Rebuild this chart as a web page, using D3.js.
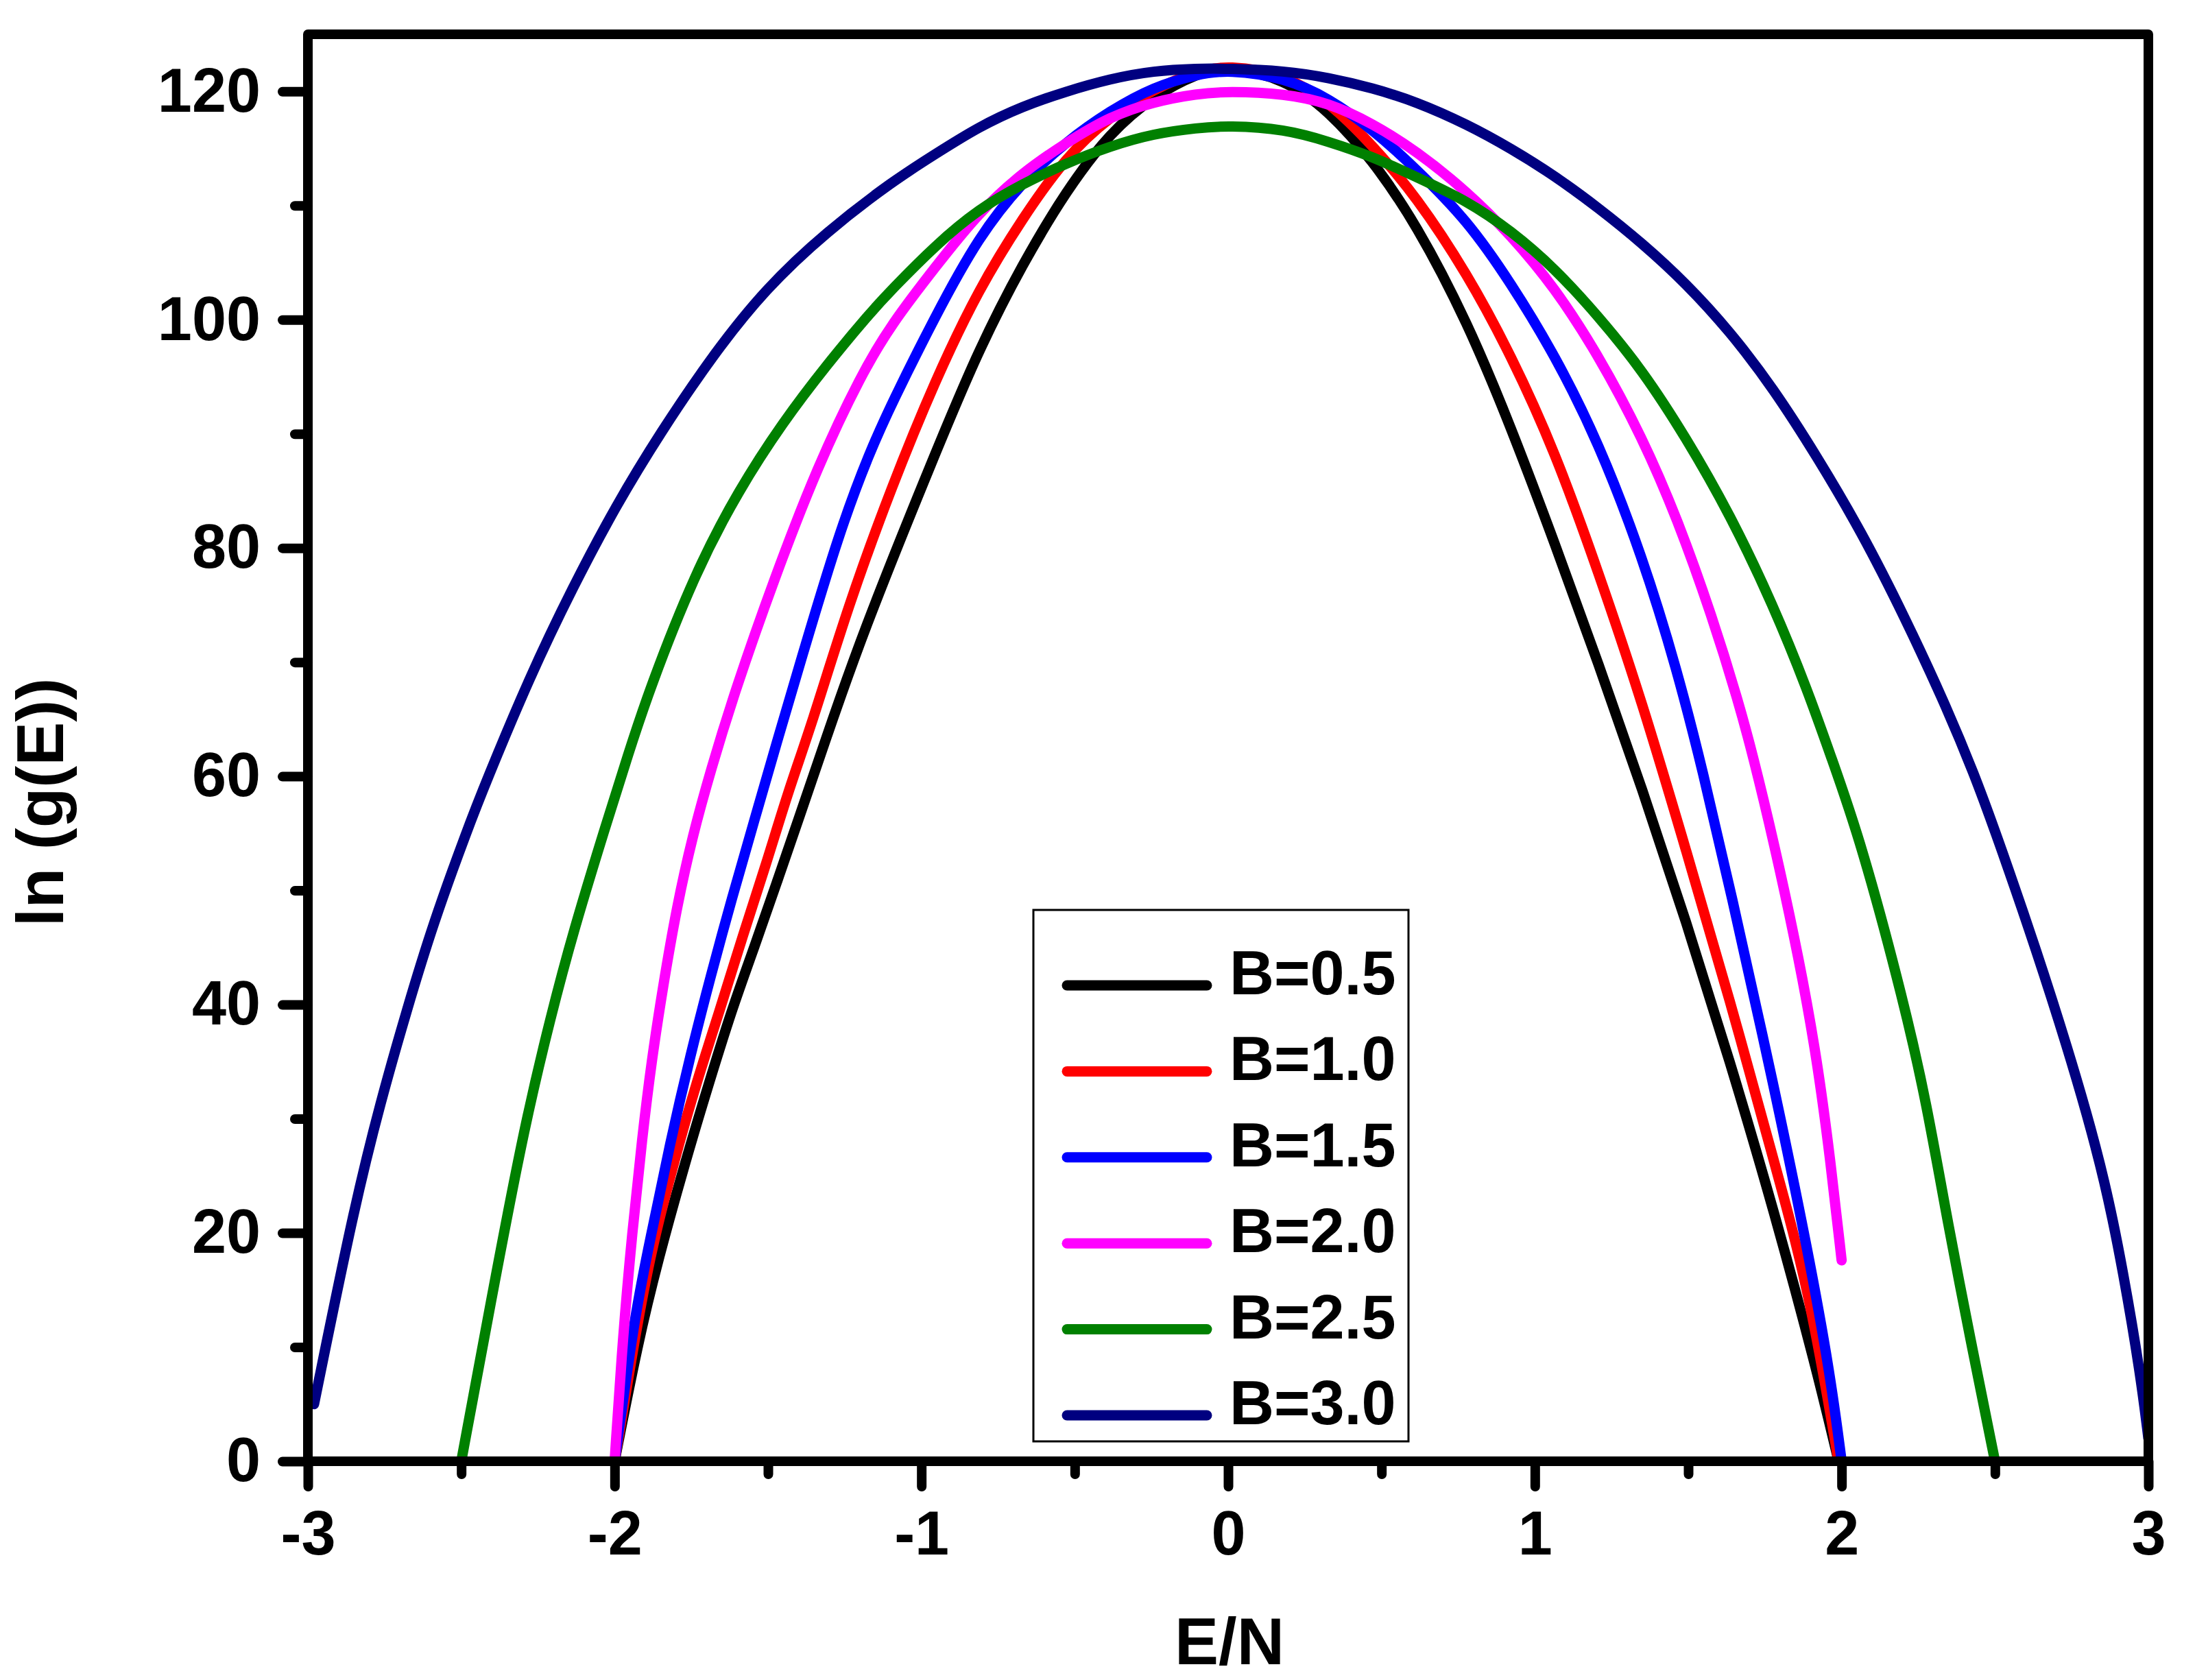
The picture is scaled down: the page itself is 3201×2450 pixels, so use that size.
<!DOCTYPE html>
<html>
<head>
<meta charset="utf-8">
<script src="https://cdn.jsdelivr.net/npm/d3@7"></script>
<style>
    body { margin: 0; background: #fff; }
    svg  { display: block; }
    text { font-family: "Liberation Sans", Arial, sans-serif; font-weight: bold; fill: #000; }
</style>
</head>
<body>
<div id="chart"></div>
<script>
/* jshint esversion: 6 */
"use strict";

// #############################################################################
// data: [E/N, ln(g(E))]
const seriesB05 = [
    [-2.00, 0], [-1.925, 10.3], [-1.858, 17.7], [-1.768, 26.4], [-1.694, 33.0],
    [-1.619, 39.5], [-1.545, 45.0], [-1.47, 50.8], [-1.396, 56.6], [-1.321, 62.5],
    [-1.196, 72.3], [-0.955, 88.3], [-0.813, 97.4], [-0.67, 104.9], [-0.528, 111.3],
    [-0.385, 116.4], [-0.243, 119.6], [-0.1, 121.6], [0, 122.2], [0.185, 121.1],
    [0.328, 118.3], [0.47, 114.0], [0.613, 108.4], [0.78, 99.8], [0.922, 90.6],
    [1.065, 80.4], [1.207, 69.9], [1.35, 58.9], [1.493, 47.3], [1.635, 35.1],
    [1.777, 22.2], [1.92, 7.9], [1.99, 0]
];
const seriesB10 = [
    [-2.00, 0], [-1.932, 11.2], [-1.88, 18.6], [-1.805, 26.4], [-1.731, 33.4],
    [-1.657, 39.5], [-1.582, 46.1], [-1.507, 52.2], [-1.433, 58.8], [-1.359, 64.4],
    [-1.238, 75.0], [-1.098, 85.3], [-0.955, 94.7], [-0.813, 102.7], [-0.67, 108.9],
    [-0.528, 114.3], [-0.385, 117.8], [-0.243, 120.2], [-0.1, 121.8], [0, 122.3],
    [0.185, 121.5], [0.328, 119.1], [0.47, 115.3], [0.613, 110.8], [0.78, 104.0],
    [0.922, 96.9], [1.065, 88.5], [1.207, 77.9], [1.35, 66.5], [1.493, 53.5],
    [1.635, 40.5], [1.777, 26.5], [1.892, 15.3], [1.99, 0]
];
const seriesB15 = [
    [-2.00, 0], [-1.932, 13.3], [-1.88, 19.9], [-1.82, 27.8], [-1.753, 35.6],
    [-1.686, 42.6], [-1.619, 49.2], [-1.545, 56.1], [-1.47, 63.1], [-1.40, 69.5],
    [-1.267, 81.5], [-1.167, 88.5], [-1.098, 92.6], [-0.955, 100.3], [-0.813, 107.3],
    [-0.67, 112.1], [-0.528, 115.6], [-0.385, 118.3], [-0.243, 120.4], [-0.1, 121.5],
    [0, 121.9], [0.185, 121.2], [0.328, 119.4], [0.47, 116.7], [0.613, 113.2],
    [0.78, 108.7], [0.922, 103.2], [1.065, 96.9], [1.207, 89.3], [1.35, 79.3],
    [1.464, 69.3], [1.549, 60.3], [1.635, 50.3], [1.777, 33.2], [1.892, 18.2],
    [1.963, 7.6], [2.00, 0]
];
const seriesB20 = [
    [-2.00, 0], [-1.973, 11.0], [-1.943, 20.0], [-1.91, 28.4], [-1.88, 35.0],
    [-1.843, 41.5], [-1.798, 48.5], [-1.746, 54.8], [-1.686, 60.6], [-1.61, 67.3],
    [-1.48, 77.3], [-1.338, 87.2], [-1.196, 95.2], [-1.098, 99.6], [-0.955, 104.6],
    [-0.813, 109.4], [-0.67, 112.9], [-0.528, 115.5], [-0.385, 117.8], [-0.243, 119.1],
    [-0.1, 119.8], [0, 120.0], [0.185, 119.8], [0.328, 119.0], [0.47, 117.2],
    [0.613, 114.8], [0.78, 111.2], [0.922, 107.4], [1.065, 102.8], [1.207, 96.9],
    [1.35, 89.7], [1.464, 82.6], [1.578, 74.0], [1.664, 66.5], [1.71, 61.9],
    [1.777, 54.5], [1.863, 43.8], [1.92, 35.2], [1.963, 26.5], [2.00, 17.6]
];
const seriesB25 = [
    [-2.50, 0], [-2.393, 15.5], [-2.293, 29.5], [-2.208, 39.0], [-2.136, 46.3],
    [-2.029, 55.7], [-1.955, 62.0], [-1.887, 67.6], [-1.737, 77.9], [-1.595, 85.1],
    [-1.452, 91.0], [-1.31, 96.0], [-1.167, 100.6], [-1.098, 102.6], [-0.955, 106.5],
    [-0.813, 109.7], [-0.67, 111.9], [-0.528, 113.7], [-0.385, 115.2], [-0.243, 116.3],
    [-0.1, 116.8], [0, 117.0], [0.185, 116.7], [0.328, 115.6], [0.47, 114.3],
    [0.613, 112.5], [0.78, 110.4], [0.922, 107.8], [1.065, 104.5], [1.207, 100.3],
    [1.35, 95.6], [1.492, 89.7], [1.635, 83.0], [1.777, 75.0], [1.891, 67.4],
    [1.963, 61.9], [2.063, 54.3], [2.205, 40.0], [2.276, 31.5], [2.348, 20.6],
    [2.419, 10.8], [2.50, 0]
];
const seriesB30 = [
    [-2.98, 5.0], [-2.849, 22.3], [-2.763, 31.5], [-2.678, 39.5], [-2.592, 47.1],
    [-2.478, 55.5], [-2.421, 59.4], [-2.279, 68.6], [-2.136, 76.6], [-1.994, 83.8],
    [-1.851, 90.1], [-1.68, 96.9], [-1.509, 102.7], [-1.31, 107.7], [-1.09, 112.2],
    [-0.955, 114.5], [-0.813, 116.9], [-0.67, 118.7], [-0.528, 120.0], [-0.385, 121.1],
    [-0.243, 121.8], [-0.1, 122.0], [0, 122.0], [0.185, 121.8], [0.328, 121.2],
    [0.47, 120.3], [0.613, 119.1], [0.78, 117.1], [0.922, 115.0], [1.065, 112.6],
    [1.207, 109.8], [1.35, 106.7], [1.492, 103.2], [1.635, 99.0], [1.777, 94.0],
    [1.92, 88.0], [2.063, 81.5], [2.205, 74.0], [2.348, 65.7], [2.433, 60.1],
    [2.49, 56.0], [2.633, 45.0], [2.775, 32.9], [2.861, 24.3], [2.918, 16.6],
    [2.975, 7.5], [3.00, 2.0]
];

const seriesLabels = ["B=0.5", "B=1.0", "B=1.5", "B=2.0", "B=2.5", "B=3.0"];
const seriesColors = ["#000000", "#ff0000", "#0000ff", "#ff00ff", "#008000", "#000080"];

const xDomain = [-3, 3];
const yDomain = [0, 125];
const xTickValues = [-3, -2, -1, 0, 1, 2, 3];
const xMinorTickValues = [-2.5, -1.5, -0.5, 0.5, 1.5, 2.5];
const yTickValues = [0, 20, 40, 60, 80, 100, 120];
const yMinorTickValues = [10, 30, 50, 70, 90, 110];
// #############################################################################

const allSeries = [seriesB05, seriesB10, seriesB15, seriesB20, seriesB25, seriesB30];

const W = 3201, H = 2450;
const plot = { left: 449, right: 3133, top: 50, bottom: 2131 };

const svg = d3.select("#chart")
              .append("svg")
              .attr("width", W)
              .attr("height", H)
              .attr("viewBox", `0 0 ${W} ${H}`);

svg.append("rect").attr("width", W).attr("height", H).attr("fill", "#fff");

const xScale = d3.scaleLinear().domain(xDomain).range([plot.left, plot.right]);
const yScale = d3.scaleLinear().domain(yDomain).range([plot.bottom, plot.top]);

svg.append("clipPath")
   .attr("id", "plotclip")
   .append("rect")
   .attr("x", plot.left).attr("y", plot.top)
   .attr("width", plot.right - plot.left)
   .attr("height", plot.bottom - plot.top);

// curves ######################################################################
// b-spline smooths out the small reading errors in the points
const line = d3.line()
               .x(d => xScale(d[0]))
               .y(d => yScale(d[1]))
               .curve(d3.curveBasis);

svg.append("g")
   .attr("clip-path", "url(#plotclip)")
   .selectAll("path")
   .data(allSeries)
   .enter().append("path")
   .attr("d", line)
   .attr("fill", "none")
   .attr("stroke", (d, i) => seriesColors[i])
   .attr("stroke-width", 15)
   .attr("stroke-linejoin", "round")
   .attr("stroke-linecap", "round");

// axes ########################################################################
function styleTicks(g)
{
    g.select(".domain").remove();
    g.selectAll(".tick line")
     .attr("stroke", "#000")
     .attr("stroke-width", 14)
     .attr("stroke-linecap", "round");
}

svg.append("g")
   .attr("transform", `translate(0,${plot.bottom})`)
   .call(d3.axisBottom(xScale).tickValues(xMinorTickValues).tickSize(19).tickFormat(""))
   .call(styleTicks);

const xAxis = svg.append("g")
   .attr("transform", `translate(0,${plot.bottom})`)
   .call(d3.axisBottom(xScale).tickValues(xTickValues).tickSize(37).tickFormat(d => String(d)))
   .call(styleTicks);
xAxis.selectAll(".tick text")
     .attr("y", 136).attr("dy", 0)
     .attr("font-size", 90)
     .attr("font-family", null)
     .attr("fill", "#000");

svg.append("g")
   .attr("transform", `translate(${plot.left},0)`)
   .call(d3.axisLeft(yScale).tickValues(yMinorTickValues).tickSize(19).tickFormat(""))
   .call(styleTicks);

const yAxis = svg.append("g")
   .attr("transform", `translate(${plot.left},0)`)
   .call(d3.axisLeft(yScale).tickValues(yTickValues).tickSize(37).tickFormat(d => String(d)))
   .call(styleTicks);
yAxis.selectAll(".tick text")
     .attr("x", -69).attr("dy", "0.32em")
     .attr("font-size", 90)
     .attr("font-family", null)
     .attr("fill", "#000");

// frame on top of the curves
svg.append("rect")
   .attr("x", plot.left).attr("y", plot.top)
   .attr("width", plot.right - plot.left)
   .attr("height", plot.bottom - plot.top)
   .attr("fill", "none")
   .attr("stroke", "#000")
   .attr("stroke-width", 14)
   .attr("stroke-linejoin", "round");

// titles
svg.append("text")
   .attr("x", (plot.left + plot.right) / 2 + 2)
   .attr("y", 2427)
   .attr("text-anchor", "middle")
   .attr("font-size", 96)
   .text("E/N");

svg.append("text")
   .attr("transform", "translate(92,1170) rotate(-90)")
   .attr("text-anchor", "middle")
   .attr("font-size", 96)
   .text("ln (g(E))");

// legend ######################################################################
const legend = svg.append("g").attr("transform", "translate(1507,1327)");

legend.append("rect")
      .attr("width", 547).attr("height", 775)
      .attr("fill", "#fff")
      .attr("stroke", "#000")
      .attr("stroke-width", 3);

const rows = legend.selectAll("g.row")
      .data(seriesLabels)
      .enter().append("g")
      .attr("class", "row")
      .attr("transform", (d, i) => `translate(0,${110 + i * 125.4})`);

rows.append("line")
    .attr("x1", 49).attr("x2", 253)
    .attr("stroke", (d, i) => seriesColors[i])
    .attr("stroke-width", 15)
    .attr("stroke-linecap", "round");

rows.append("text")
    .attr("x", 286).attr("y", 13)
    .attr("font-size", 90)
    .text(d => d);
</script>
</body>
</html>
